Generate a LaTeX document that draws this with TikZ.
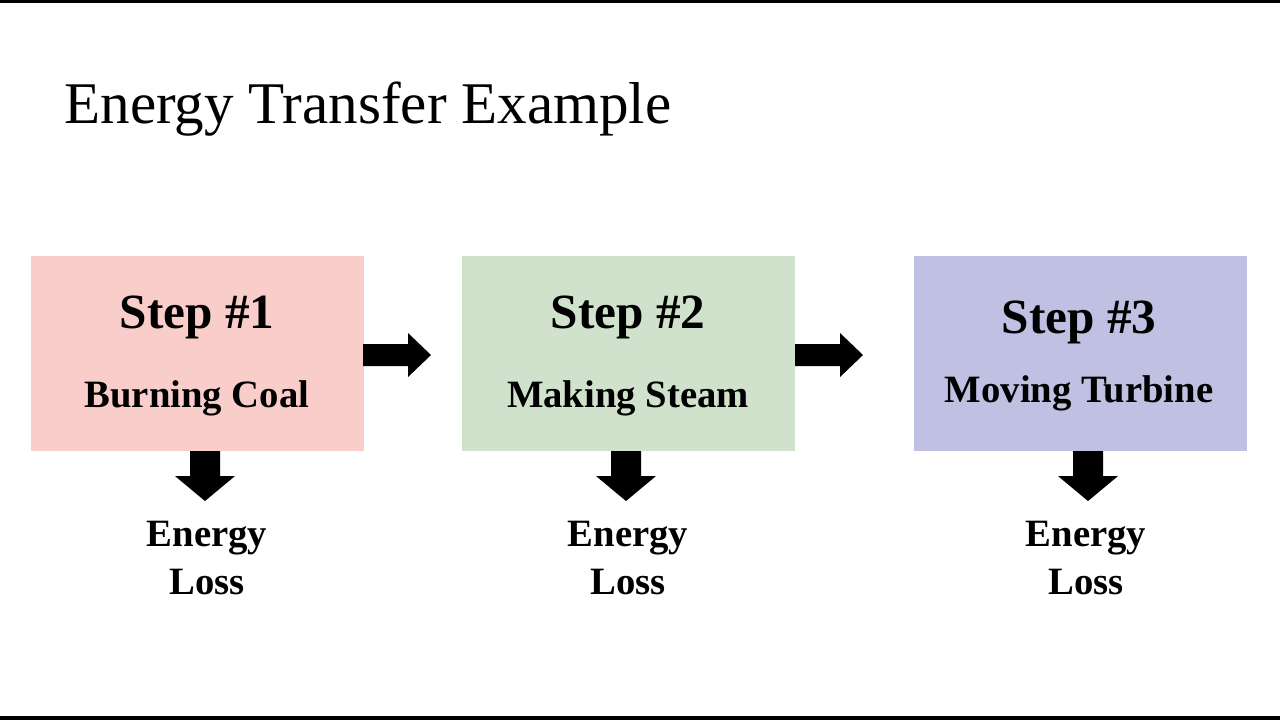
\documentclass[tikz,border=0pt]{standalone}
\usepackage{fontspec}
\setmainfont{Liberation Serif}
\begin{document}
\begin{tikzpicture}[x=0.01cm,y=-0.01cm,
  box/.style={draw=none,minimum width=3.33cm,minimum height=1.95cm,anchor=north west,inner sep=0},
  steptxt/.style={font=\fontsize{14}{16}\selectfont\bfseries},
  sub/.style={font=\fontsize{11}{13}\selectfont\bfseries},
  loss/.style={font=\fontsize{11}{13.5}\selectfont\bfseries,align=center},
  rarrow/.pic={\fill (0,-11) -- (45,-11) -- (45,-22) -- (68,0) -- (45,22) -- (45,11) -- (0,11) -- cycle;},
  darrow/.pic={\fill (-15,0) -- (15,0) -- (15,25) -- (30,25) -- (0,50) -- (-30,25) -- (-15,25) -- cycle;}]
\useasboundingbox (0,0) rectangle (1280,720);
\fill (0,0) rectangle (1280,3);
\fill (0,716) rectangle (1280,720);
\node[anchor=west,font=\fontsize{16.8}{20}\selectfont] (title) at (52,109) {Energy Transfer Example};
\definecolor{c1}{HTML}{F9CDC9}\definecolor{c2}{HTML}{D0E2CC}\definecolor{c3}{HTML}{C0C0E2}
\node[box,fill=c1] (b1) at (30,255) {};
\node[box,fill=c2] (b2) at (461,255) {};
\node[box,fill=c3] (b3) at (913,255) {};
\node[steptxt] (s1) at (197,317) {Step \#1};
\node[sub] (t1) at (197,398) {Burning Coal};
\node[steptxt] (s2) at (628,317) {Step \#2};
\node[sub] (t2) at (628,398) {Making Steam};
\node[steptxt] (s3) at (1079,322) {Step \#3};
\node[sub] (t3) at (1079,393) {Moving Turbine};
\pic at (363,355) {rarrow};
\pic at (795,355) {rarrow};
\pic at (205,451) {darrow};
\pic at (626,451) {darrow};
\pic at (1088,451) {darrow};
\node[loss] (l1) at (207,558) {Energy\\Loss};
\node[loss] (l2) at (628,558) {Energy\\Loss};
\node[loss] (l3) at (1086,558) {Energy\\Loss};
\end{tikzpicture}
\end{document}
